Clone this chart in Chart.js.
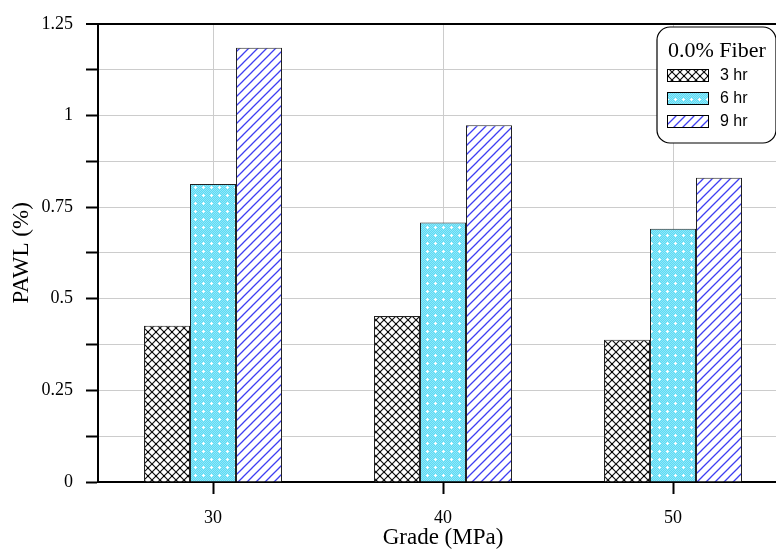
<!DOCTYPE html>
<html>
<head>
<meta charset="utf-8">
<script src="https://cdn.jsdelivr.net/npm/chart.js@4"></script>
<style>
  html, body { margin: 0; padding: 0; background: #fff; overflow: hidden; }
  #wrap { width: 790px; height: 549px; }
</style>
</head>
<body>
<div id="wrap"><canvas id="c" width="790" height="549"></canvas></div>
<script>
const grades = ['30', '40', '50'];
const seriesNames = ['3 hr', '6 hr', '9 hr'];
const hr3 = [0.426, 0.453, 0.388];
const hr6 = [0.813, 0.708, 0.691];
const hr9 = [1.185, 0.973, 0.830];
const legendTitle = '0.0% Fiber';

function makeTile(size, draw) {
  const t = document.createElement('canvas');
  t.width = size; t.height = size;
  const g = t.getContext('2d');
  draw(g, size);
  return document.getElementById('c').getContext('2d').createPattern(t, 'repeat');
}

// black diagonal crosshatch
const crossHatch = makeTile(8, (g, s) => {
  g.fillStyle = '#fff'; g.fillRect(0, 0, s, s);
  g.strokeStyle = '#111'; g.lineWidth = 1.2;
  g.beginPath();
  g.moveTo(0, 0); g.lineTo(s, s);
  g.moveTo(s, 0); g.lineTo(0, s);
  g.stroke();
  g.fillStyle = '#000';
  g.fillRect(0, 0, 1, 1); g.fillRect(s / 2 - 1, s / 2 - 1, 2, 2);
});

// cyan with white dots / crosses
const cyanDots = makeTile(8, (g, s) => {
  g.fillStyle = '#5adbf5'; g.fillRect(0, 0, s, s);
  g.fillStyle = 'rgba(255,255,255,0.35)';
  for (let x = 0; x < s; x++) for (let y = 0; y < s; y++) if ((x + y) % 2 === 0) g.fillRect(x, y, 1, 1);
  g.fillStyle = '#fff';
  g.fillRect(3, 2, 1, 3);
  g.fillRect(2, 3, 3, 1);
});

// blue forward hatch
const blueHatch = makeTile(9, (g, s) => {
  g.fillStyle = '#fff'; g.fillRect(0, 0, s, s);
  g.strokeStyle = '#3f3ff2'; g.lineWidth = 1.3;
  g.beginPath();
  g.moveTo(-1, s + 1); g.lineTo(s + 1, -1);
  g.moveTo(-1, 1); g.lineTo(1, -1);
  g.moveTo(s - 1, s + 1); g.lineTo(s + 1, s - 1);
  g.stroke();
});

const fills = [crossHatch, cyanDots, blueHatch];

const legendBox = {
  id: 'legendBox',
  afterDraw(chart) {
    const ctx = chart.ctx;
    ctx.save();
    const x = 657, y = 27, w = 119, h = 116, r = 13;
    ctx.beginPath();
    ctx.roundRect(x, y, w, h, r);
    ctx.fillStyle = '#fff';
    ctx.fill();
    ctx.strokeStyle = '#000';
    ctx.lineWidth = 1.2;
    ctx.stroke();
    ctx.fillStyle = '#000';
    ctx.font = '22px "Liberation Serif"';
    ctx.textBaseline = 'alphabetic';
    ctx.fillText(legendTitle, 668, 57);
    ctx.font = '16px "Liberation Sans"';
    ctx.textBaseline = 'middle';
    chart.data.datasets.forEach((ds, i) => {
      const sy = 69 + i * 23;
      ctx.fillStyle = ds.backgroundColor;
      ctx.fillRect(667, sy, 42, 13);
      ctx.strokeStyle = '#000';
      ctx.lineWidth = 1;
      ctx.strokeRect(667.5, sy + 0.5, 41, 12);
      ctx.fillStyle = '#000';
      ctx.fillText(ds.label, 720, sy + 7);
    });
    ctx.restore();
  }
};

new Chart(document.getElementById('c'), {
  type: 'bar',
  data: {
    labels: grades,
    datasets: [
      { label: seriesNames[0], data: hr3, backgroundColor: fills[0] },
      { label: seriesNames[1], data: hr6, backgroundColor: fills[1] },
      { label: seriesNames[2], data: hr9, backgroundColor: fills[2] }
    ].map(d => Object.assign(d, { borderColor: '#222', borderWidth: 1, barPercentage: 1, categoryPercentage: 0.6 }))
  },
  options: {
    responsive: false,
    animation: false,
    layout: { padding: { top: 19, right: 2, left: 0, bottom: 0 } },
    plugins: { legend: { display: false }, tooltip: { enabled: false } },
    scales: {
      x: {
        offset: true,
        afterFit(s) { s.height = 67; },
        grid: { offset: false, color: '#cccccc', lineWidth: 1, tickColor: '#000', tickWidth: 2, tickLength: 12 },
        border: { color: '#000', width: 2 },
        ticks: { color: '#000', padding: 13, font: { family: 'Liberation Serif', size: 18 } },
        title: { display: true, text: 'Grade (MPa)', color: '#000', padding: { top: 0, bottom: 0 }, font: { family: 'Liberation Serif', size: 23, lineHeight: 1 } }
      },
      y: {
        min: 0, max: 1.25,
        afterFit(s) { s.width = 98; },
        grid: {
          color: c => c.tick && c.tick.value === 1.25 ? '#000' : '#cccccc',
          lineWidth: c => c.tick && c.tick.value === 1.25 ? 2 : 1,
          tickColor: '#000', tickWidth: 2, tickLength: 12
        },
        border: { color: '#000', width: 2 },
        ticks: {
          stepSize: 0.125,
          color: '#000',
          padding: 13,
          font: { family: 'Liberation Serif', size: 18 },
          callback: v => (Math.round(v * 8) % 2 === 0 ? String(+v.toFixed(2)) : '')
        },
        title: { display: true, text: 'PAWL (%)', color: '#000', padding: { top: 8, bottom: 0 }, font: { family: 'Liberation Serif', size: 23, lineHeight: 1.2 } }
      }
    }
  },
  plugins: [legendBox]
});
</script>
</body>
</html>
